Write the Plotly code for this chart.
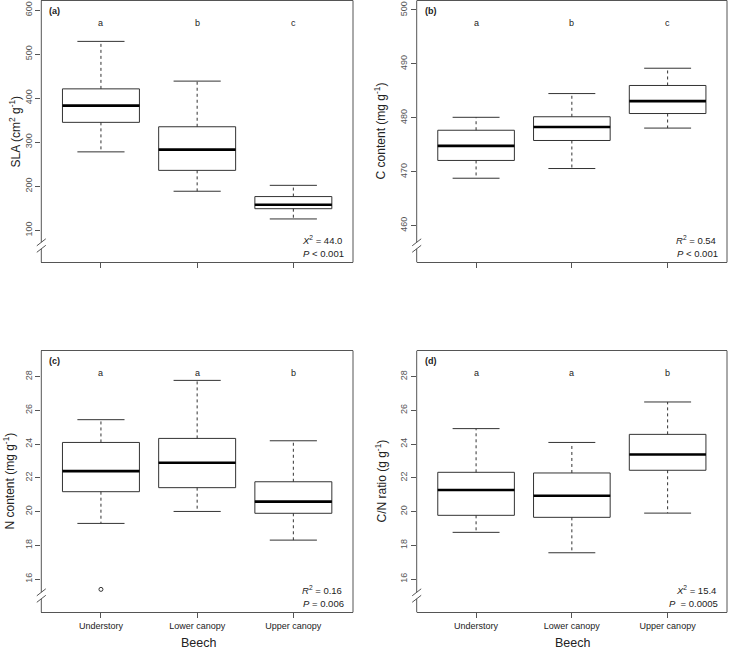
import plotly.graph_objects as go

W, H = 729, 649
FONT = "Liberation Sans, Arial, sans-serif"

categories = ["Understory", "Lower canopy", "Upper canopy"]
xpos = [1, 2, 3]

# (a) SLA
sla_low = [278, 188.6, 125.7]
sla_q1 = [345, 236, 149]
sla_med = [383, 283, 158]
sla_q3 = [421, 335, 176.5]
sla_high = [528.8, 438.6, 202]
sla_letters = ["a", "b", "c"]

# (b) C content
c_low = [468.8, 470.6, 478.1]
c_q1 = [472.1, 475.8, 480.8]
c_med = [474.8, 478.3, 483.1]
c_q3 = [477.7, 480.2, 486.0]
c_high = [480.1, 484.5, 489.2]
c_letters = ["a", "b", "c"]

# (c) N content
n_low = [19.3, 20.01, 18.31]
n_q1 = [21.18, 21.42, 19.9]
n_med = [22.4, 22.9, 20.59]
n_q3 = [24.1, 24.34, 21.77]
n_high = [25.45, 27.78, 24.2]
n_out_x = [1]
n_out_y = [15.39]
n_letters = ["a", "a", "b"]

# (d) C/N ratio
cn_low = [18.77, 17.56, 19.91]
cn_q1 = [19.78, 19.66, 22.45]
cn_med = [21.28, 20.94, 23.39]
cn_q3 = [22.33, 22.29, 24.58]
cn_high = [24.92, 24.1, 26.5]
cn_letters = ["a", "a", "b"]

# pixel geometry helpers
def px(x):
    return x / W

def py(y):
    return 1 - y / H

left_cols = (41.3, 353.0)
right_cols = (416.7, 727.0)
top_row = (0.5, 262.3)
bot_row = (350.7, 612.3)

panels = [
    dict(ax="", cols=left_cols, row=top_row, yr=[27.3, 621.6], ticks=[100, 200, 300, 400, 500, 600],
         low=sla_low, q1=sla_q1, med=sla_med, q3=sla_q3, high=sla_high, letters=sla_letters, lety=570,
         tag="(a)", title="SLA (cm<sup>2</sup> g<sup>-1</sup>)", title_x=15,
         stat1="<i>X</i><sup>2</sup> = 44.0", stat2="<i>P</i> < 0.001", showx=False),
    dict(ax="2", cols=right_cols, row=top_row, yr=[453.21, 501.76], ticks=[460, 470, 480, 490, 500],
         low=c_low, q1=c_q1, med=c_med, q3=c_q3, high=c_high, letters=c_letters, lety=497.5,
         tag="(b)", title="C content (mg g<sup>-1</sup>)", title_x=380,
         stat1="<i>R</i><sup>2</sup> = 0.54", stat2="<i>P</i> < 0.001", showx=False),
    dict(ax="3", cols=left_cols, row=bot_row, yr=[14.03, 29.54], ticks=[16, 18, 20, 22, 24, 26, 28],
         low=n_low, q1=n_q1, med=n_med, q3=n_q3, high=n_high, letters=n_letters, lety=28.2,
         tag="(c)", title="N content (mg g<sup>-1</sup>)", title_x=8,
         stat1="<i>R</i><sup>2</sup> = 0.16", stat2="<i>P</i> = 0.006", showx=True),
    dict(ax="4", cols=right_cols, row=bot_row, yr=[14.03, 29.54], ticks=[16, 18, 20, 22, 24, 26, 28],
         low=cn_low, q1=cn_q1, med=cn_med, q3=cn_q3, high=cn_high, letters=cn_letters, lety=28.2,
         tag="(d)", title="C/N ratio (g g<sup>-1</sup>)", title_x=380,
         stat1="<i>X</i><sup>2</sup> = 15.4", stat2="<i>P</i>  = 0.0005", showx=True),
]

fig = go.Figure()
layout = dict(width=W, height=H, margin=dict(l=0, r=0, t=0, b=0),
              paper_bgcolor="white", plot_bgcolor="white", showlegend=False,
              font=dict(family=FONT, color="#222"))
annotations = []
shapes = []

FRAME = "#555"
BOXC = "#333"
CAP_HW = 0.245

for p in panels:
    xa = "x" + p["ax"]
    ya = "y" + p["ax"]
    # boxes
    for i, x in enumerate(xpos):
        fig.add_trace(go.Box(x=[x], q1=[p["q1"][i]], median=[p["med"][i]], q3=[p["q3"][i]],
                             lowerfence=[p["q1"][i]], upperfence=[p["q3"][i]],
                             width=0.8, fillcolor="white", line=dict(color=BOXC, width=1),
                             whiskerwidth=0, boxpoints=False, hoverinfo="skip",
                             xaxis=xa, yaxis=ya))
        # median
        fig.add_trace(go.Scatter(x=[x - 0.4, x + 0.4], y=[p["med"][i]] * 2, mode="lines",
                                 line=dict(color="black", width=2.6), xaxis=xa, yaxis=ya,
                                 hoverinfo="skip"))
        # whiskers dashed
        for a, b in [(p["q3"][i], p["high"][i]), (p["q1"][i], p["low"][i])]:
            fig.add_trace(go.Scatter(x=[x, x], y=[a, b], mode="lines",
                                     line=dict(color=BOXC, width=1, dash="3px,3px"),
                                     xaxis=xa, yaxis=ya, hoverinfo="skip"))
        # caps
        for v in (p["high"][i], p["low"][i]):
            fig.add_trace(go.Scatter(x=[x - CAP_HW, x + CAP_HW], y=[v, v], mode="lines",
                                     line=dict(color=BOXC, width=1), xaxis=xa, yaxis=ya,
                                     hoverinfo="skip"))
        # letters
        annotations.append(dict(x=x, y=p["lety"], xref=xa, yref=ya, text=p["letters"][i],
                                showarrow=False, font=dict(size=9, color="#222")))
    if p["ax"] == "3":
        fig.add_trace(go.Scatter(x=n_out_x, y=n_out_y, mode="markers",
                                 marker=dict(symbol="circle-open", size=4, color=BOXC,
                                             line=dict(width=1)),
                                 xaxis=xa, yaxis=ya, hoverinfo="skip"))

    xkey = "xaxis" + p["ax"]
    ykey = "yaxis" + p["ax"]
    layout[xkey] = dict(domain=[px(p["cols"][0]), px(p["cols"][1])], range=[0.38, 3.62],
                        anchor=ya, tickvals=xpos, ticktext=categories,
                        showticklabels=p["showx"], ticks="outside", ticklen=5,
                        tickcolor=FRAME, showgrid=False, zeroline=False,
                        showline=True, mirror=True, linecolor=FRAME, linewidth=1,
                        tickfont=dict(size=9, color="#222"), fixedrange=True)
    layout[ykey] = dict(domain=[py(p["row"][1]), py(p["row"][0])], range=p["yr"],
                        anchor=xa, tickvals=p["ticks"], ticks="outside", ticklen=5,
                        tickcolor=FRAME, tickangle=-90, showgrid=False, zeroline=False,
                        showline=False, tickfont=dict(size=9, color="#555"), fixedrange=True)

    L, R = p["cols"]
    T, B = p["row"]
    # right frame line
    shapes.append(dict(type="line", xref="paper", yref="paper", x0=px(R), x1=px(R),
                       y0=py(T), y1=py(B), line=dict(color=FRAME, width=1)))
    # left frame broken
    shapes.append(dict(type="line", xref="paper", yref="paper", x0=px(L), x1=px(L),
                       y0=py(T), y1=py(B - 20), line=dict(color=FRAME, width=1)))
    shapes.append(dict(type="line", xref="paper", yref="paper", x0=px(L), x1=px(L),
                       y0=py(B - 13.5), y1=py(B), line=dict(color=FRAME, width=1)))
    for off in (16.5, 10):
        shapes.append(dict(type="line", xref="paper", yref="paper",
                           x0=px(L - 4.5), y0=py(B - off), x1=px(L + 4.5), y1=py(B - off - 7),
                           line=dict(color=FRAME, width=1)))

    # panel tag
    annotations.append(dict(x=px(L + 6), y=py(T + 10), xref="paper", yref="paper", text="<b>" + p["tag"] + "</b>",
                            showarrow=False, xanchor="left", yanchor="middle",
                            font=dict(size=9, color="#222")))
    # y title
    annotations.append(dict(x=px(p["title_x"]), y=py((T + B) / 2), xref="paper", yref="paper",
                            text=p["title"], textangle=-90, showarrow=False,
                            xanchor="center", yanchor="middle", font=dict(size=12, color="#222")))
    # stats
    annotations.append(dict(x=px(R - 9), y=py(B - 22), xref="paper", yref="paper", text=p["stat1"],
                            showarrow=False, xanchor="right", yanchor="middle",
                            font=dict(size=9.5, color="#222")))
    annotations.append(dict(x=px(R - 7), y=py(B - 9), xref="paper", yref="paper", text=p["stat2"],
                            showarrow=False, xanchor="right", yanchor="middle",
                            font=dict(size=9.5, color="#222")))
    if p["showx"]:
        annotations.append(dict(x=px((L + R) / 2 + 1), y=py(643), xref="paper", yref="paper",
                                text="Beech", showarrow=False, xanchor="center", yanchor="middle",
                                font=dict(size=12.5, color="#222")))

layout["annotations"] = annotations
layout["shapes"] = shapes
fig.update_layout(**layout)
fig.write_html("out.html", config={"displayModeBar": False},
               post_script="document.body.style.margin='0';document.body.style.padding='0';document.body.style.overflow='hidden';")
